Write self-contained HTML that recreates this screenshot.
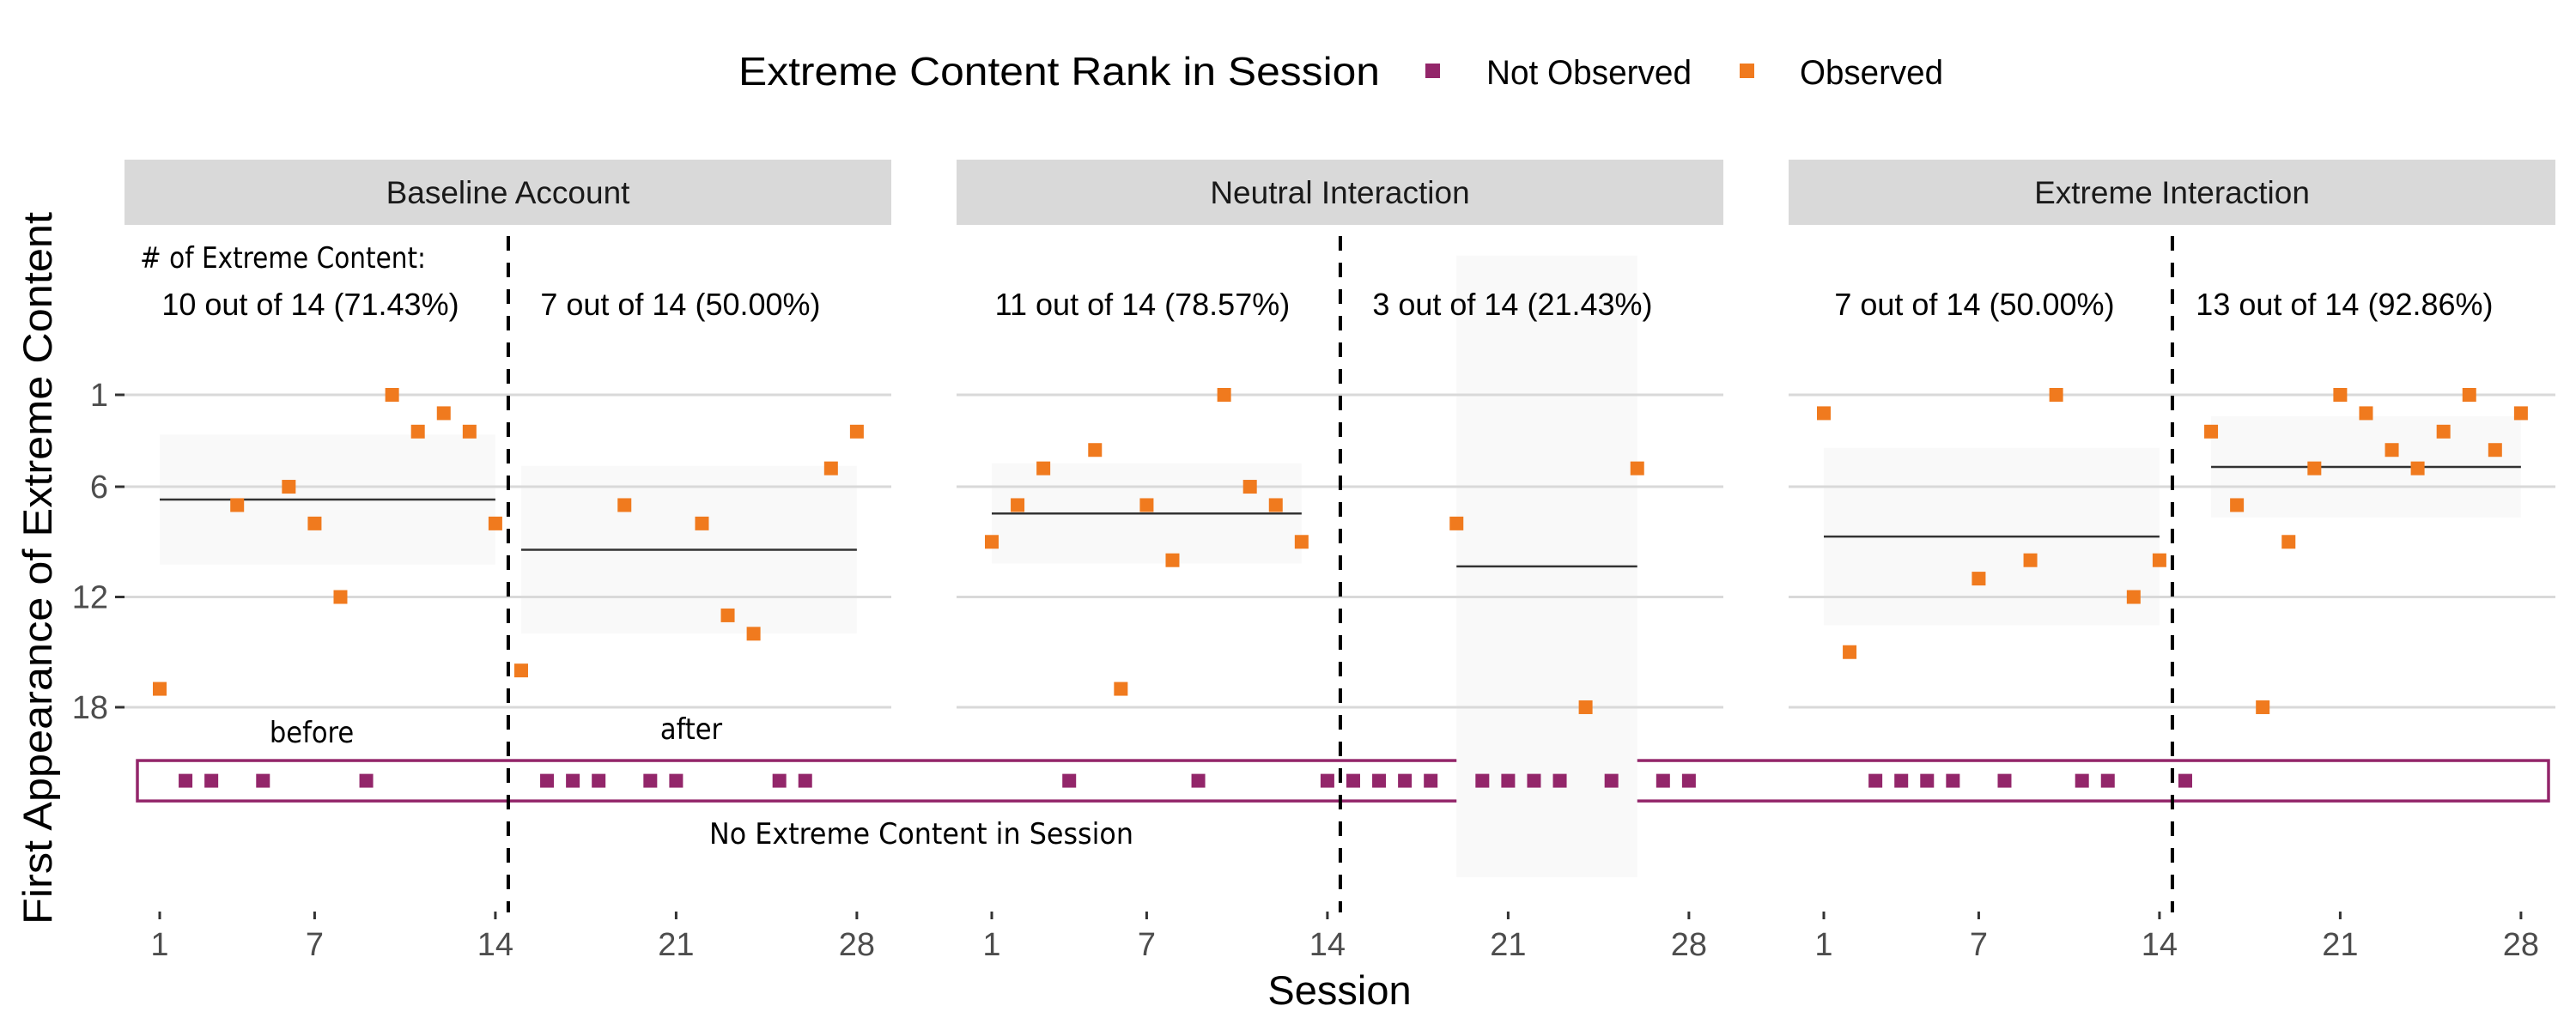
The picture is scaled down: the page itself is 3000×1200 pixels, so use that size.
<!DOCTYPE html>
<html><head><meta charset="utf-8"><style>
html,body{margin:0;padding:0;background:#fff;}
svg{display:block;font-family:"Liberation Sans",sans-serif;}
.cond{font-family:"DejaVu Sans Condensed","Liberation Sans Narrow","Liberation Sans",sans-serif;}
</style></head><body>
<svg id="chart" width="3000" height="1200" viewBox="0 0 3000 1200" xmlns="http://www.w3.org/2000/svg">
  <g id="legend">
    <text x="860" y="99" font-size="46" textLength="747" lengthAdjust="spacingAndGlyphs">Extreme Content Rank in Session</text>
    <rect x="1660" y="74" width="17" height="17" fill="#93266A"/>
    <text x="1731" y="98" font-size="40" textLength="239" lengthAdjust="spacingAndGlyphs">Not Observed</text>
    <rect x="2026" y="74" width="17" height="17" fill="#F07A1E"/>
    <text x="2096" y="98" font-size="40" textLength="167" lengthAdjust="spacingAndGlyphs">Observed</text>
  </g>
  <text transform="translate(60,662) rotate(-90)" text-anchor="middle" font-size="47" textLength="830" lengthAdjust="spacingAndGlyphs">First Appearance of Extreme Content</text>
  <text x="1560" y="1170" text-anchor="middle" font-size="47">Session</text>
  <g id="panels"></g>
</svg>
<script>
// ---- data ----
const facets = ["Baseline Account", "Neutral Interaction", "Extreme Interaction"];
const yTicks = [1, 6, 12, 18];
const xTicks = [1, 7, 14, 21, 28];
const baselineSessions = [1, 4, 6, 7, 8, 10, 11, 12, 13, 14, 15, 19, 22, 23, 24, 27, 28];
const baselineRanks    = [17, 7, 6, 8, 12, 1, 3, 2, 3, 8, 16, 7, 8, 13, 14, 5, 3];
const neutralSessions  = [1, 2, 3, 5, 6, 7, 8, 10, 11, 12, 13, 19, 24, 26];
const neutralRanks     = [9, 7, 5, 4, 17, 7, 10, 1, 6, 7, 9, 8, 18, 5];
const extremeSessions  = [1, 2, 7, 9, 10, 13, 14, 16, 17, 18, 19, 20, 21, 22, 23, 24, 25, 26, 27, 28];
const extremeRanks     = [2, 15, 11, 10, 1, 12, 10, 3, 7, 18, 9, 5, 1, 2, 4, 5, 3, 1, 4, 2];
const countLabels = [
  ["10 out of 14 (71.43%)", "7 out of 14 (50.00%)"],
  ["11 out of 14 (78.57%)", "3 out of 14 (21.43%)"],
  ["7 out of 14 (50.00%)", "13 out of 14 (92.86%)"]
];
const noContentRank = 22;
const tCrit = [0, 12.706, 4.303, 3.182, 2.776, 2.571, 2.447, 2.365, 2.306, 2.262, 2.228, 2.201, 2.179, 2.160];

// ---- layout ----
const NS = "http://www.w3.org/2000/svg";
const panelX0 = [145, 1114, 2083];
const panelW = 893;
const pxPerSession = 30.07;
const xFirst = 186 - 145;
function xScale(p, s) { return panelX0[p] + xFirst + (s - 1) * pxPerSession; }
function yScale(r) { return 460 + (r - 1) * 21.41; }
const ORANGE = "#F07A1E", PURPLE = "#93266A";
const root = document.getElementById("panels");
function mk(tag, attrs, parent) {
  const e = document.createElementNS(NS, tag);
  for (const k in attrs) e.setAttribute(k, attrs[k]);
  (parent || root).appendChild(e);
  return e;
}
const allSessions = [baselineSessions, neutralSessions, extremeSessions];
const allRanks = [baselineRanks, neutralRanks, extremeRanks];

const box = mk("rect", {x: 160, y: yScale(noContentRank - 1.1), width: 2968 - 160, height: yScale(noContentRank + 1.1) - yScale(noContentRank - 1.1), fill: "none", stroke: PURPLE, "stroke-width": 3.5});



for (let p = 0; p < 3; p++) {
  const g = mk("g", {});
  
  
  const x0 = panelX0[p];
  const strip = mk("rect", {x: x0, y: 186, width: panelW, height: 76, fill: "#D9D9D9"}, g);
  
  
  const st = mk("text", {x: x0 + panelW / 2, y: 237, "text-anchor": "middle", "font-size": 37, fill: "#1a1a1a"}, g);
  st.textContent = facets[p];
  
  
  const sess = allSessions[p], ranks = allRanks[p];
  for (let h = 0; h < 2; h++) {
    const ss = [], rr = [];
    sess.forEach((s, i) => { if ((h === 0 && s <= 14) || (h === 1 && s > 14)) { ss.push(s); rr.push(ranks[i]); } });
    if (!ss.length) continue;
    const n = rr.length;
    const mean = rr.reduce((a, b) => a + b, 0) / n;
    let sd = 0;
    if (n > 1) sd = Math.sqrt(rr.reduce((a, b) => a + (b - mean) * (b - mean), 0) / (n - 1));
    const ci = n > 1 ? tCrit[Math.min(n - 1, 13)] * sd / Math.sqrt(n) : 0;
    const xa = xScale(p, Math.min(...ss)), xb = xScale(p, Math.max(...ss));
    const ya = Math.max(yScale(mean - ci), 262), yb = yScale(mean + ci);
    const sh = mk("rect", {x: xa, y: ya, width: xb - xa, height: yb - ya, fill: "#F9F9F9"}, g);
    
    
    const ml = mk("line", {x1: xa, x2: xb, y1: yScale(mean), y2: yScale(mean), stroke: "#333", "stroke-width": 2.5}, g);
    
    
  }
  yTicks.forEach(t => {
    const gl = mk("line", {x1: x0, x2: x0 + panelW, y1: yScale(t), y2: yScale(t), stroke: "#D9D9D9", "stroke-width": 3}, g);
    
    
  });
  xTicks.forEach(t => {
    const tx = xScale(p, t);
    const tk = mk("line", {x1: tx, x2: tx, y1: 1062, y2: 1071, stroke: "#333", "stroke-width": 3}, g);
    
    
    const tl = mk("text", {x: tx, y: 1113, "text-anchor": "middle", "font-size": 38, fill: "#4d4d4d"}, g);
    tl.textContent = t;
    
    
  });
  const dx = xScale(p, 14.5);
  const dl = mk("line", {x1: dx, x2: dx, y1: 275, y2: 1063, stroke: "#000", "stroke-width": 4, "stroke-dasharray": "17 14"}, g);
  
  
  for (let h = 0; h < 2; h++) {
    const cx = h === 0 ? xScale(p, 7.5) - 20 : xScale(p, 21.5) - 10;
    const cl = mk("text", {x: cx, y: 367, "text-anchor": "middle", "font-size": 36, fill: "#000"}, g);
    cl.textContent = countLabels[p][h];
    
    
  }
  for (let s = 1; s <= 28; s++) {
    const idx = sess.indexOf(s);
    const obs = idx >= 0;
    const r = obs ? ranks[idx] : noContentRank;
    const pt = mk("rect", {x: xScale(p, s) - 8, y: yScale(r) - 8, width: 16, height: 16, fill: obs ? ORANGE : PURPLE}, g);
    
    
  }
}
yTicks.forEach(t => {
  const tk = mk("line", {x1: 134, x2: 145, y1: yScale(t), y2: yScale(t), stroke: "#333", "stroke-width": 3});
  
  
  const tl = mk("text", {x: 126, y: yScale(t) + 13, "text-anchor": "end", "font-size": 38, fill: "#4d4d4d"});
  tl.textContent = t;
  
  
});
const a1 = mk("text", {x: 163, y: 312, "font-size": 34, "class": "cond", textLength: 333, lengthAdjust: "spacingAndGlyphs"});
a1.textContent = "# of Extreme Content:";


const a2 = mk("text", {x: 363, y: 865, "font-size": 34, "class": "cond", "text-anchor": "middle"});
a2.textContent = "before";


const a3 = mk("text", {x: 805, y: 861, "font-size": 34, "class": "cond", "text-anchor": "middle"});
a3.textContent = "after";


const a4 = mk("text", {x: 1073, y: 983, "font-size": 34, "class": "cond", "text-anchor": "middle", textLength: 494, lengthAdjust: "spacingAndGlyphs"});
a4.textContent = "No Extreme Content in Session";


</script>
</body></html>
